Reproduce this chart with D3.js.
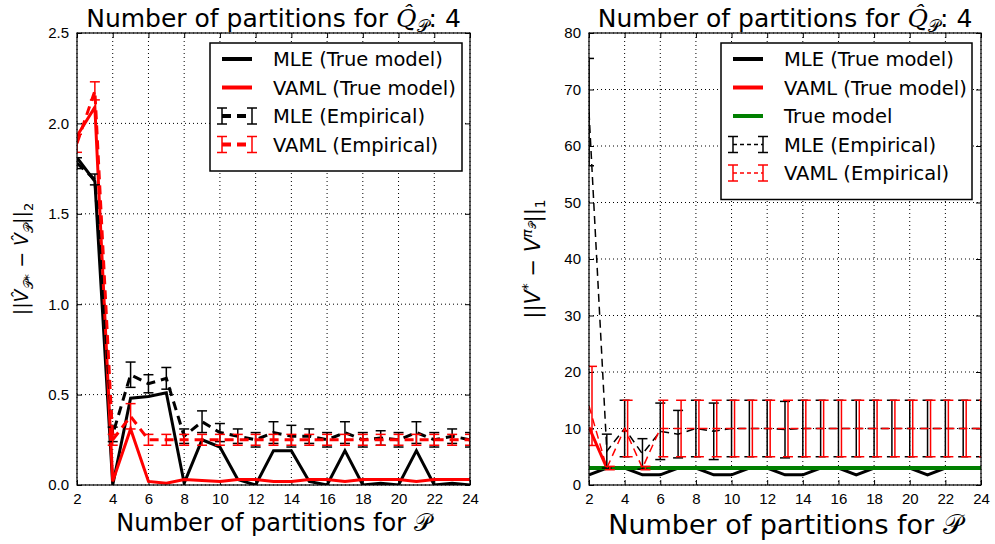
<!DOCTYPE html>
<html>
<head>
<meta charset="utf-8">
<script src="https://cdn.jsdelivr.net/npm/d3@7"></script>
<style>
  body { margin: 0; background: #fff; }
  svg { font-family: "DejaVu Sans", sans-serif; }
  .tick text { font-size: 15px; fill: #000; }
</style>
</head>
<body>
<svg id="chart" width="995" height="544"></svg>
<script>
// x categories (number of partitions)
const partitions = [2,3,4,5,6,7,8,9,10,11,12,13,14,15,16,17,18,19,20,21,22,23,24];
const xTicks = [2,4,6,8,10,12,14,16,18,20,22,24];

// left panel: ||V_hat_P* - V_hat_P||_2
const mleTrueL  = [1.81,1.68,0.0,0.48,0.49,0.51,0.01,0.25,0.21,0.03,0.0,0.19,0.19,0.02,0.0,0.19,0.0,0.01,0.0,0.19,0.0,0.01,0.0];
const vamlTrueL = [1.93,2.09,0.02,0.31,0.02,0.01,0.03,0.025,0.02,0.03,0.03,0.02,0.02,0.03,0.03,0.02,0.03,0.03,0.03,0.02,0.03,0.03,0.03];
const mleEmpL   = [1.78,1.69,0.28,0.61,0.56,0.59,0.27,0.35,0.29,0.27,0.25,0.29,0.27,0.27,0.25,0.29,0.25,0.26,0.25,0.29,0.25,0.27,0.25];
const mleErrL   = [0.03,0.03,0.04,0.07,0.05,0.06,0.04,0.06,0.05,0.04,0.04,0.06,0.06,0.04,0.04,0.06,0.04,0.04,0.04,0.06,0.04,0.04,0.04];
const vamlEmpL  = [1.89,2.18,0.25,0.38,0.25,0.25,0.25,0.25,0.25,0.25,0.25,0.25,0.25,0.25,0.25,0.25,0.25,0.25,0.25,0.25,0.25,0.25,0.25];
const vamlErrL  = [0.05,0.05,0.03,0.07,0.03,0.03,0.03,0.03,0.03,0.03,0.03,0.03,0.03,0.03,0.03,0.03,0.03,0.03,0.03,0.03,0.03,0.03,0.03];
const yTicksL   = [0,0.5,1.0,1.5,2.0,2.5];

// right panel: ||V* - V^pi_P||_1
const mleTrueR  = [1.8,3,3,1.8,1.8,3,3,1.8,1.8,3,3,1.8,1.8,3,3,1.8,3,3,3,1.8,3,3,3];
const vamlTrueR = [10.2,3,3,3,3,3,3,3,3,3,3,3,3,3,3,3,3,3,3,3,3,3,3];
const trueModelR = [3,3,3,3,3,3,3,3,3,3,3,3,3,3,3,3,3,3,3,3,3,3,3];
const mleEmpR   = [66,6,10,5.5,9.5,9,10,9.5,10,10,10,9.8,10,10,10,10,10,10,10,10,10,10,10];
const mleErrR   = [9.5,3,5,2.7,5,4.2,5,5,5,5,5,5,5,5,5,5,5,5,5,5,5,5,5];
const vamlEmpR  = [14,3,10,3,10,10,10,10,10,10,10,10,10,10,10,10,10,10,10,10,10,10,10];
const vamlErrR  = [7,0.3,5,0.3,5,5,5,5,5,5,5,5,5,5,5,5,5,5,5,5,5,5,5];
const yTicksR   = [0,10,20,30,40,50,60,70,80];

const SCRIPT_P = "\u{1D4AB}";
const svg = d3.select("#chart");

function drawPanel(cfg) {
  const { left, right, top, bottom } = cfg.box;
  const x = d3.scaleLinear().domain([2, 24]).range([left, right]);
  const y = d3.scaleLinear().domain(cfg.yDomain).range([bottom, top]);
  const g = svg.append("g");

  // clip
  const clipId = "clip-" + cfg.id;
  svg.append("clipPath").attr("id", clipId)
    .append("rect").attr("x", left).attr("y", top)
    .attr("width", right - left).attr("height", bottom - top);

  // grid
  g.append("g").selectAll("line").data(xTicks).join("line")
    .attr("x1", d => x(d)).attr("x2", d => x(d))
    .attr("y1", top).attr("y2", bottom)
    .attr("stroke", "#000").attr("stroke-width", 1).attr("stroke-dasharray", "1,3");
  g.append("g").selectAll("line").data(cfg.yTicks).join("line")
    .attr("x1", left).attr("x2", right)
    .attr("y1", d => y(d)).attr("y2", d => y(d))
    .attr("stroke", "#000").attr("stroke-width", 1).attr("stroke-dasharray", "1,3");

  // axes with inward ticks
  const ax = (gen, tr) => {
    const a = g.append("g").attr("transform", tr).call(gen);
    a.select(".domain").remove();
    a.selectAll(".tick line").attr("stroke", "#000");
    return a;
  };
  ax(d3.axisBottom(x).tickValues(xTicks).tickSize(-5).tickPadding(8), `translate(0,${bottom})`);
  ax(d3.axisTop(x).tickValues(xTicks).tickSize(-5).tickFormat(""), `translate(0,${top})`);
  ax(d3.axisLeft(y).tickValues(cfg.yTicks).tickSize(-5).tickPadding(8).tickFormat(cfg.yFormat), `translate(${left},0)`);
  ax(d3.axisRight(y).tickValues(cfg.yTicks).tickSize(-5).tickFormat(""), `translate(${right},0)`);

  const plot = g.append("g").attr("clip-path", `url(#${clipId})`);
  const line = d3.line().x((d, i) => x(partitions[i])).y(d => y(d));

  cfg.lines.forEach(s => {
    plot.append("path").datum(s.values)
      .attr("d", line).attr("fill", "none")
      .attr("stroke", s.color).attr("stroke-width", s.width)
      .attr("stroke-linejoin", "miter");
  });

  cfg.errs.forEach(s => {
    plot.append("path").datum(s.values)
      .attr("d", line).attr("fill", "none")
      .attr("stroke", s.color).attr("stroke-width", s.width)
      .attr("stroke-dasharray", s.dash);
    const eb = plot.append("g").attr("transform", `translate(${s.shift || 0},0)`)
      .attr("stroke", s.color).attr("stroke-width", s.barWidth);
    s.values.forEach((v, i) => {
      const cx = x(partitions[i]), e = s.err[i];
      eb.append("line").attr("x1", cx).attr("x2", cx).attr("y1", y(v - e)).attr("y2", y(v + e));
      eb.append("line").attr("x1", cx - 5).attr("x2", cx + 5).attr("y1", y(v - e)).attr("y2", y(v - e));
      eb.append("line").attr("x1", cx - 5).attr("x2", cx + 5).attr("y1", y(v + e)).attr("y2", y(v + e));
    });
  });

  // frame
  g.append("rect").attr("x", left).attr("y", top)
    .attr("width", right - left).attr("height", bottom - top)
    .attr("fill", "none").attr("stroke", "#000").attr("stroke-width", 1.2);

  // title
  const t = g.append("text").attr("x", (left + right) / 2).attr("y", 27)
    .attr("text-anchor", "middle").style("font-size", "25px");
  t.append("tspan").text("Number of partitions for ");
  t.append("tspan").style("font-family", "DejaVu Serif").style("font-style", "italic").text("Q\u0302");
  t.append("tspan").attr("dy", 5).style("font-size", "17px").text(SCRIPT_P);
  t.append("tspan").attr("dy", -5).text(": 4");

  // x label
  g.append("text").attr("x", (left + right) / 2).attr("y", cfg.xLabelY)
    .attr("text-anchor", "middle").style("font-size", cfg.xLabelSize + "px")
    .text("Number of partitions for " + SCRIPT_P);

  // y label
  const yl = g.append("text")
    .attr("transform", `translate(${cfg.yLabelX},${(top + bottom) / 2}) rotate(-90)`)
    .attr("text-anchor", "middle").style("font-size", cfg.yLabelSize + "px");
  cfg.yLabel(yl);

  // legend
  const lg = g.append("g").attr("transform", `translate(${cfg.legend.x},${cfg.legend.y})`);
  const rows = cfg.legendRows;
  lg.append("rect").attr("width", cfg.legend.w).attr("height", 14 + rows.length * 28.5)
    .attr("fill", "#fff").attr("stroke", "#000").attr("stroke-width", 1.5);
  rows.forEach((r, i) => {
    const ry = 16 + i * 28.5;
    const row = lg.append("g").attr("transform", `translate(0,${ry})`);
    if (r.err) {
      row.append("line").attr("x1", 12).attr("x2", 42).attr("y1", 0).attr("y2", 0)
        .attr("stroke", r.color).attr("stroke-width", r.width).attr("stroke-dasharray", r.dash);
      [12, 42].forEach(bx => {
        row.append("line").attr("x1", bx).attr("x2", bx).attr("y1", -8).attr("y2", 8)
          .attr("stroke", r.color).attr("stroke-width", 1.5);
        row.append("line").attr("x1", bx - 5).attr("x2", bx + 5).attr("y1", -8).attr("y2", -8)
          .attr("stroke", r.color).attr("stroke-width", 1.5);
        row.append("line").attr("x1", bx - 5).attr("x2", bx + 5).attr("y1", 8).attr("y2", 8)
          .attr("stroke", r.color).attr("stroke-width", 1.5);
      });
    } else {
      row.append("line").attr("x1", 12).attr("x2", 42).attr("y1", 0).attr("y2", 0)
        .attr("stroke", r.color).attr("stroke-width", r.width);
    }
    row.append("text").attr("x", 63).attr("y", 7).style("font-size", "19.5px").text(r.label);
  });
}

drawPanel({
  id: "left",
  box: { left: 77, right: 470, top: 33, bottom: 485 },
  yDomain: [0, 2.5], yTicks: yTicksL, yFormat: d3.format(".1f"),
  lines: [
    { values: mleTrueL, color: "#000", width: 3 },
    { values: vamlTrueL, color: "#ff0000", width: 3 }
  ],
  errs: [
    { values: mleEmpL, err: mleErrL, color: "#000", width: 3, dash: "9,6", barWidth: 1.5 },
    { values: vamlEmpL, err: vamlErrL, color: "#ff0000", width: 3, dash: "9,6", barWidth: 1.5 }
  ],
  xLabelY: 531, xLabelSize: 24,
  yLabelX: 28, yLabelSize: 19,
  yLabel: t => {
    t.append("tspan").text("||");
    t.append("tspan").style("font-style", "italic").text("V\u0302");
    t.append("tspan").attr("dy", 5).style("font-size", "13px").text(SCRIPT_P + "*");
    t.append("tspan").attr("dy", -5).text(" \u2212 ");
    t.append("tspan").style("font-style", "italic").text("V\u0302");
    t.append("tspan").attr("dy", 5).style("font-size", "13px").text(SCRIPT_P);
    t.append("tspan").attr("dy", -5).text("||");
    t.append("tspan").attr("dy", 5).style("font-size", "13px").text("2");
  },
  legend: { x: 210, y: 43, w: 252 },
  legendRows: [
    { label: "MLE (True model)", color: "#000", width: 4 },
    { label: "VAML (True model)", color: "#ff0000", width: 4 },
    { label: "MLE (Empirical)", color: "#000", width: 4, err: true, dash: "9,6" },
    { label: "VAML (Empirical)", color: "#ff0000", width: 4, err: true, dash: "9,6" }
  ]
});

drawPanel({
  id: "right",
  box: { left: 589, right: 981, top: 33, bottom: 485 },
  yDomain: [0, 80], yTicks: yTicksR, yFormat: d3.format("d"),
  lines: [
    { values: mleTrueR, color: "#000", width: 3 },
    { values: vamlTrueR, color: "#ff0000", width: 3 },
    { values: trueModelR, color: "#008000", width: 4 }
  ],
  errs: [
    { values: mleEmpR, err: mleErrR, color: "#000", width: 1.5, dash: "8,5", barWidth: 1.5 },
    { values: vamlEmpR, err: vamlErrR, color: "#ff0000", width: 1.5, dash: "8,5", barWidth: 1.5, shift: 3 }
  ],
  xLabelY: 534, xLabelSize: 27,
  yLabelX: 540, yLabelSize: 21,
  yLabel: t => {
    t.append("tspan").text("||");
    t.append("tspan").style("font-style", "italic").text("V");
    t.append("tspan").attr("dy", -8).style("font-size", "14px").text("*");
    t.append("tspan").attr("dy", 8).text(" \u2212 ");
    t.append("tspan").style("font-style", "italic").text("V");
    t.append("tspan").attr("dy", -8).style("font-size", "14px").style("font-style", "italic").text("\u03C0");
    t.append("tspan").attr("dy", 4).style("font-size", "10px").text(SCRIPT_P);
    t.append("tspan").attr("dy", 4).text("||");
    t.append("tspan").attr("dy", 5).style("font-size", "14px").text("1");
  },
  legend: { x: 721, y: 43, w: 251 },
  legendRows: [
    { label: "MLE (True model)", color: "#000", width: 4 },
    { label: "VAML (True model)", color: "#ff0000", width: 4 },
    { label: "True model", color: "#008000", width: 4 },
    { label: "MLE (Empirical)", color: "#000", width: 1.5, err: true, dash: "4,3" },
    { label: "VAML (Empirical)", color: "#ff0000", width: 1.5, err: true, dash: "4,3" }
  ]
});
</script>
</body>
</html>
